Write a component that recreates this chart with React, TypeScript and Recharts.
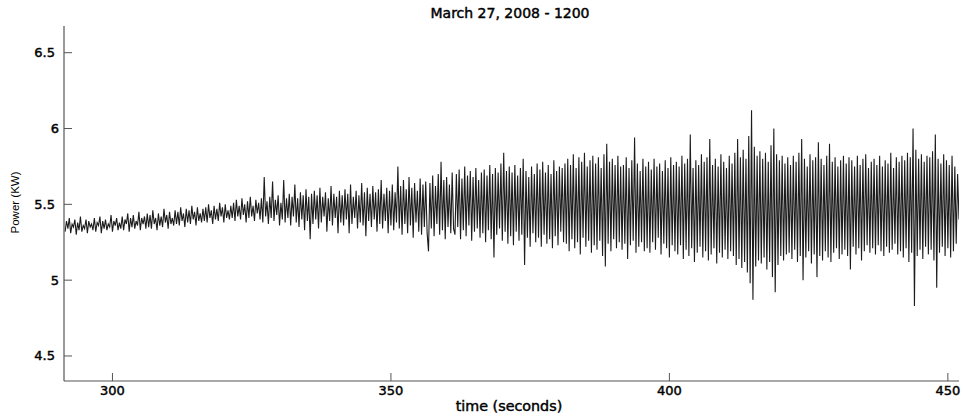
import React from 'react';
import { LineChart, Line, XAxis, YAxis } from 'recharts';

const T_START = 291.5;
const T_STEP = 0.25;

// Power readings (KW), one every 0.25 s from 291.5 s
const powerKW: number[] = [
  // 291.5 – 296.25
  5.32, 5.39, 5.34, 5.41, 5.31, 5.37, 5.35, 5.40, 5.30, 5.38, 5.33, 5.42, 5.32, 5.36, 5.34, 5.40, 5.31, 5.39, 5.35, 5.37,
  // 296.5 – 301.25
  5.33, 5.41, 5.32, 5.38, 5.36, 5.42, 5.31, 5.39, 5.34, 5.40, 5.33, 5.37, 5.35, 5.43, 5.32, 5.39, 5.36, 5.41, 5.33, 5.38,
  // 301.5 – 306.25
  5.34, 5.42, 5.33, 5.40, 5.37, 5.44, 5.32, 5.41, 5.35, 5.43, 5.34, 5.39, 5.36, 5.45, 5.33, 5.41, 5.37, 5.42, 5.34, 5.44,
  // 306.5 – 311.25
  5.35, 5.43, 5.34, 5.46, 5.37, 5.41, 5.33, 5.44, 5.36, 5.42, 5.35, 5.47, 5.38, 5.43, 5.34, 5.45, 5.37, 5.41, 5.36, 5.46,
  // 311.5 – 316.25
  5.37, 5.45, 5.36, 5.48, 5.39, 5.44, 5.35, 5.47, 5.38, 5.46, 5.37, 5.49, 5.40, 5.45, 5.36, 5.48, 5.39, 5.44, 5.38, 5.47,
  // 316.5 – 321.25
  5.39, 5.48, 5.38, 5.50, 5.41, 5.46, 5.37, 5.49, 5.40, 5.47, 5.39, 5.51, 5.42, 5.48, 5.38, 5.50, 5.41, 5.46, 5.40, 5.49,
  // 321.5 – 326.25
  5.41, 5.51, 5.39, 5.53, 5.42, 5.49, 5.40, 5.54, 5.43, 5.50, 5.38, 5.52, 5.41, 5.55, 5.42, 5.49, 5.39, 5.53, 5.44, 5.51,
  // 326.5 – 331.25
  5.40, 5.54, 5.38, 5.68, 5.42, 5.52, 5.37, 5.55, 5.41, 5.65, 5.39, 5.53, 5.43, 5.56, 5.36, 5.51, 5.40, 5.66, 5.38, 5.54,
  // 331.5 – 336.25
  5.41, 5.57, 5.36, 5.55, 5.42, 5.63, 5.38, 5.54, 5.35, 5.58, 5.40, 5.56, 5.33, 5.60, 5.39, 5.55, 5.27, 5.57, 5.37, 5.59,
  // 336.5 – 341.25
  5.40, 5.56, 5.34, 5.61, 5.38, 5.55, 5.42, 5.58, 5.32, 5.54, 5.39, 5.62, 5.36, 5.57, 5.41, 5.55, 5.31, 5.59, 5.38, 5.56,
  // 341.5 – 346.25
  5.36, 5.60, 5.40, 5.57, 5.31, 5.63, 5.37, 5.55, 5.41, 5.59, 5.34, 5.56, 5.38, 5.64, 5.36, 5.58, 5.29, 5.61, 5.39, 5.57,
  // 346.5 – 351.25
  5.35, 5.62, 5.40, 5.58, 5.32, 5.60, 5.37, 5.66, 5.34, 5.57, 5.39, 5.61, 5.31, 5.59, 5.36, 5.63, 5.33, 5.58, 5.38, 5.75,
  // 351.5 – 356.25
  5.34, 5.62, 5.30, 5.66, 5.37, 5.60, 5.31, 5.68, 5.36, 5.61, 5.28, 5.64, 5.38, 5.59, 5.32, 5.67, 5.30, 5.63, 5.35, 5.65,
  // 356.5 – 361.25
  5.31, 5.19, 5.64, 5.34, 5.69, 5.29, 5.62, 5.37, 5.70, 5.30, 5.78, 5.33, 5.66, 5.27, 5.68, 5.35, 5.63, 5.31, 5.71, 5.34,
  // 361.5 – 366.25
  5.30, 5.70, 5.35, 5.73, 5.27, 5.67, 5.33, 5.75, 5.29, 5.69, 5.36, 5.72, 5.26, 5.68, 5.32, 5.74, 5.34, 5.66, 5.28, 5.71,
  // 366.5 – 371.25
  5.31, 5.73, 5.25, 5.69, 5.33, 5.76, 5.27, 5.70, 5.15, 5.74, 5.30, 5.71, 5.34, 5.77, 5.26, 5.84, 5.32, 5.72, 5.24, 5.75,
  // 371.5 – 376.25
  5.29, 5.71, 5.23, 5.76, 5.32, 5.69, 5.26, 5.74, 5.30, 5.80, 5.10, 5.72, 5.28, 5.68, 5.22, 5.75, 5.31, 5.70, 5.25, 5.77,
  // 376.5 – 381.25
  5.28, 5.73, 5.22, 5.78, 5.30, 5.71, 5.24, 5.76, 5.27, 5.70, 5.21, 5.79, 5.29, 5.72, 5.23, 5.75, 5.32, 5.74, 5.25, 5.77,
  // 381.5 – 386.25
  5.24, 5.80, 5.19, 5.76, 5.27, 5.83, 5.21, 5.74, 5.25, 5.81, 5.17, 5.78, 5.28, 5.84, 5.22, 5.75, 5.26, 5.79, 5.18, 5.82,
  // 386.5 – 391.25
  5.23, 5.77, 5.20, 5.81, 5.26, 5.74, 5.16, 5.83, 5.09, 5.90, 5.24, 5.78, 5.19, 5.80, 5.27, 5.76, 5.21, 5.82, 5.25, 5.75,
  // 391.5 – 396.25
  5.20, 5.76, 5.24, 5.81, 5.14, 5.74, 5.23, 5.79, 5.26, 5.94, 5.18, 5.77, 5.22, 5.72, 5.25, 5.80, 5.19, 5.75, 5.21, 5.78,
  // 396.5 – 401.25
  5.18, 5.73, 5.25, 5.80, 5.20, 5.75, 5.28, 5.77, 5.17, 5.72, 5.24, 5.79, 5.21, 5.74, 5.15, 5.81, 5.23, 5.76, 5.19, 5.78,
  // 401.5 – 406.25
  5.17, 5.75, 5.23, 5.82, 5.14, 5.77, 5.20, 5.80, 5.16, 5.96, 5.21, 5.74, 5.12, 5.79, 5.18, 5.76, 5.22, 5.83, 5.15, 5.78,
  // 406.5 – 411.25
  5.19, 5.81, 5.13, 5.93, 5.17, 5.76, 5.21, 5.80, 5.11, 5.75, 5.18, 5.83, 5.15, 5.78, 5.20, 5.74, 5.14, 5.82, 5.19, 5.77,
  // 411.5 – 416.25
  5.16, 5.84, 5.10, 5.93, 5.14, 5.81, 5.08, 5.86, 5.12, 5.80, 5.05, 5.95, 4.98, 6.12, 4.87, 5.88, 5.09, 5.82, 5.13, 5.85,
  // 416.5 – 421.25
  5.11, 5.80, 5.15, 5.84, 5.07, 5.78, 5.12, 5.89, 5.02, 6.00, 4.92, 5.83, 5.10, 5.79, 5.16, 5.82, 5.13, 5.77, 5.17, 5.81,
  // 421.5 – 426.25
  5.18, 5.76, 5.14, 5.82, 5.20, 5.78, 5.12, 5.84, 5.16, 5.93, 5.00, 5.80, 5.15, 5.75, 5.19, 5.83, 5.11, 5.79, 5.17, 5.81,
  // 426.5 – 431.25
  5.02, 5.91, 5.16, 5.80, 5.13, 5.76, 5.19, 5.82, 5.15, 5.90, 5.12, 5.78, 5.18, 5.81, 5.21, 5.75, 5.14, 5.79, 5.17, 5.82,
  // 431.5 – 436.25
  5.20, 5.77, 5.16, 5.81, 5.07, 5.79, 5.22, 5.75, 5.17, 5.82, 5.21, 5.76, 5.13, 5.80, 5.19, 5.83, 5.23, 5.74, 5.18, 5.78,
  // 436.5 – 441.25
  5.21, 5.80, 5.17, 5.76, 5.23, 5.82, 5.19, 5.75, 5.16, 5.79, 5.22, 5.77, 5.18, 5.84, 5.20, 5.74, 5.24, 5.81, 5.17, 5.78,
  // 441.5 – 446.25
  5.19, 5.82, 5.15, 5.79, 5.21, 5.84, 5.12, 5.81, 5.18, 6.00, 4.83, 5.86, 5.16, 5.80, 5.20, 5.83, 5.14, 5.78, 5.22, 5.82,
  // 446.5 – 451.25
  5.17, 5.81, 5.20, 5.85, 5.13, 5.96, 4.95, 5.80, 5.18, 5.77, 5.22, 5.83, 5.16, 5.79, 5.21, 5.76, 5.15, 5.82, 5.19, 5.75,
  // 451.5 – 452
  5.24, 5.70, 5.40,
];

const xTicks = [300, 350, 400, 450];
const yTicks = [4.5, 5, 5.5, 6, 6.5];
const xDomain: [number, number] = [291.3, 452];
const yDomain: [number, number] = [4.335, 6.676];

const titleText = 'March 27, 2008 - 1200';
const xLabelText = 'time (seconds)';
const yLabelText = 'Power (KW)';

const data = powerKW.map((p, i) => ({ t: T_START + i * T_STEP, p }));

const FONT = '"DejaVu Sans", Verdana, sans-serif';
const LABEL_FONT = '"Liberation Sans", Arial, Helvetica, sans-serif';
const AXIS = '#555555';
const TICK_LEN = 8;
const TEXT_STROKE = 0.45;

const BottomTick = (props: any) => {
  const { x, y, payload } = props;
  return (
    <g>
      <line x1={x} x2={x} y1={y} y2={y - TICK_LEN} stroke={AXIS} strokeWidth={1} />
      <text
        x={x}
        y={y + 9.5}
        textAnchor="middle"
        dominantBaseline="central"
        fontFamily={FONT}
        fontSize={13}
        fill="#000"
        stroke="#000"
        strokeWidth={TEXT_STROKE}
      >
        {payload.value}
      </text>
    </g>
  );
};

const TopTick = (props: any) => {
  const { x, y } = props;
  return <line x1={x} x2={x} y1={y} y2={y + TICK_LEN} stroke={AXIS} strokeWidth={1} />;
};

const LeftTick = (props: any) => {
  const { x, y, payload } = props;
  const gap = Number.isInteger(payload.value) ? 5 : 9;
  return (
    <g>
      <line x1={x} x2={x + TICK_LEN} y1={y} y2={y} stroke={AXIS} strokeWidth={1} />
      <text
        x={x - gap}
        y={y}
        textAnchor="end"
        dominantBaseline="central"
        fontFamily={FONT}
        fontSize={13}
        fill="#000"
        stroke="#000"
        strokeWidth={TEXT_STROKE}
      >
        {payload.value}
      </text>
    </g>
  );
};

const RightTick = (props: any) => {
  const { x, y } = props;
  return <line x1={x} x2={x - TICK_LEN} y1={y} y2={y} stroke={AXIS} strokeWidth={1} />;
};

export default function App() {
  return (
    <div style={{ position: 'absolute', left: 0, top: 0, width: 963, height: 419, background: '#fff' }}>
      <LineChart width={963} height={419} data={data} margin={{ top: 26, right: 4, bottom: 0, left: 0 }}>
        <XAxis
          dataKey="t"
          type="number"
          domain={xDomain}
          allowDataOverflow
          ticks={xTicks}
          interval={0}
          height={38}
          tickSize={0}
          tickMargin={0}
          tickLine={false}
          axisLine={{ stroke: AXIS, strokeWidth: 1.2 }}
          tick={<BottomTick />}
        />
        <XAxis
          xAxisId="top"
          dataKey="t"
          type="number"
          orientation="top"
          domain={xDomain}
          allowDataOverflow
          ticks={xTicks}
          interval={0}
          height={0}
          tickSize={0}
          tickMargin={0}
          tickLine={false}
          axisLine={{ stroke: AXIS, strokeWidth: 1.2 }}
          tick={<TopTick />}
        />
        <YAxis
          type="number"
          domain={yDomain}
          allowDataOverflow
          ticks={yTicks}
          interval={0}
          width={64}
          tickSize={0}
          tickMargin={0}
          tickLine={false}
          axisLine={{ stroke: AXIS, strokeWidth: 1.2 }}
          tick={<LeftTick />}
        />
        <YAxis
          yAxisId="right"
          orientation="right"
          type="number"
          domain={yDomain}
          allowDataOverflow
          ticks={yTicks}
          interval={0}
          width={0}
          tickSize={0}
          tickMargin={0}
          tickLine={false}
          axisLine={{ stroke: AXIS, strokeWidth: 1.2 }}
          tick={<RightTick />}
        />
        <Line
          dataKey="p"
          type="linear"
          stroke="#1c1c1c"
          strokeWidth={1.1}
          dot={false}
          activeDot={false}
          isAnimationActive={false}
        />
      </LineChart>
      <svg
        width={963}
        height={419}
        style={{ position: 'absolute', left: 0, top: 0, pointerEvents: 'none' }}
      >
        <text
          x={510}
          y={12.5}
          textAnchor="middle"
          dominantBaseline="central"
          fontFamily={FONT}
          fontSize={14}
          fill="#000"
          stroke="#000"
          strokeWidth={TEXT_STROKE}
        >
          {titleText}
        </text>
        <text
          x={509}
          y={405.5}
          textAnchor="middle"
          dominantBaseline="central"
          fontFamily={FONT}
          fontSize={14.3}
          fill="#000"
          stroke="#000"
          strokeWidth={TEXT_STROKE}
        >
          {xLabelText}
        </text>
        <text
          x={14.5}
          y={202.5}
          textAnchor="middle"
          dominantBaseline="central"
          fontFamily={LABEL_FONT}
          fontSize={11.5}
          fill="#000"
          transform="rotate(-90 14.5 202.5)"
        >
          {yLabelText}
        </text>
      </svg>
    </div>
  );
}
